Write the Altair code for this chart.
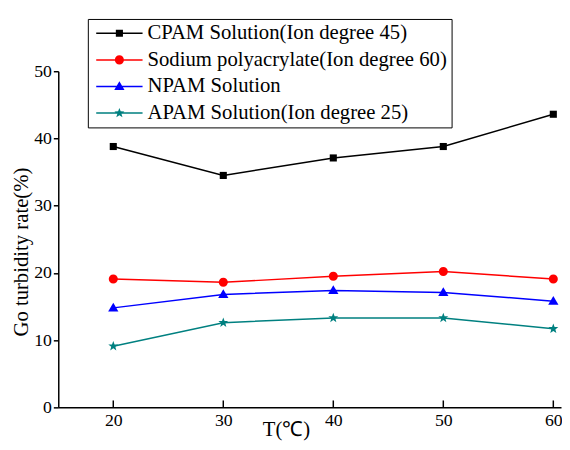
import math
import altair as alt
import pandas as pd

# ---- data ----
temps = [20, 30, 40, 50, 60]
series_names = [
    "CPAM Solution(Ion degree 45)",
    "Sodium polyacrylate(Ion degree 60)",
    "NPAM Solution",
    "APAM Solution(Ion degree 25)",
]
cpam = [38.8, 34.5, 37.1, 38.8, 43.6]
sodium = [19.1, 18.6, 19.5, 20.2, 19.1]
npam = [14.8, 16.8, 17.4, 17.1, 15.8]
apam = [9.1, 12.6, 13.3, 13.3, 11.7]
y_ticks = [0, 10, 20, 30, 40, 50]
colors = ["#000000", "#ff0000", "#0000ff", "#008080"]

rows = []
for name, vals in zip(series_names, [cpam, sodium, npam, apam]):
    for t, v in zip(temps, vals):
        rows.append({"T": t, "series": name, "rate": v})
df = pd.DataFrame(rows)

# ---- symbol paths (custom Vega shapes, unit = sqrt(size)/2 px) ----
def f(v):
    return f"{v:.3f}"

def square_path(h, u):
    h = h / u
    return f"M{f(-h)},{f(-h)}H{f(h)}V{f(h)}H{f(-h)}Z"

def circle_path(r, u):
    r = r / u
    return f"M{f(r)},0A{f(r)},{f(r)} 0 1,1 {f(-r)},0A{f(r)},{f(r)} 0 1,1 {f(r)},0Z"

def tri_path(hw, top, bot, u):
    return f"M0,{f(-top/u)}L{f(hw/u)},{f(bot/u)}L{f(-hw/u)},{f(bot/u)}Z"

def star_path(R, r, u):
    pts = []
    for i in range(10):
        a = -math.pi / 2 + i * math.pi / 5
        rad = (R if i % 2 == 0 else r) / u
        pts.append(f"{f(rad*math.cos(a))},{f(rad*math.sin(a))}")
    return "M" + "L".join(pts) + "Z"

def line_rect(hl, ht, u):
    return f"M{f(-hl/u)},{f(-ht/u)}H{f(hl/u)}V{f(ht/u)}H{f(-hl/u)}Z"

PT_SIZE = 100
pu = math.sqrt(PT_SIZE) / 2
point_paths = [
    square_path(3.6, pu),
    circle_path(4.6, pu),
    tri_path(5.2, 5.2, 3.6, pu),
    star_path(5.3, 2.2, pu),
]

LEG_SIZE = 256
lu = math.sqrt(LEG_SIZE) / 2
legend_paths = [
    line_rect(23.5, 0.75, lu) + p
    for p in [
        square_path(3.6, lu),
        circle_path(4.6, lu),
        tri_path(5.2, 5.2, 3.6, lu),
        star_path(5.3, 2.2, lu),
    ]
]

W, H = 510, 341
FONT = "Liberation Serif"
axis_style = dict(
    domainColor="black", domainWidth=1.5, tickColor="black", tickWidth=1.5,
    labelFont=FONT, labelFontSize=18, labelColor="black",
    titleFont=FONT, titleFontSize=21, titleFontWeight="normal", titleColor="black",
    grid=False,
)

x_enc = alt.X(
    "T:Q",
    scale=alt.Scale(domain=[15, 60.7], nice=False, zero=False),
    axis=alt.Axis(values=temps, ticks=False, tickSize=0, labelPadding=4,
                  title="T(℃)", titleX=231, titleY=23, titleAlign="center",
                  titleBaseline="middle", **axis_style),
)
y_enc = alt.Y(
    "rate:Q",
    scale=alt.Scale(domain=[0, 50], nice=False),
    axis=alt.Axis(values=y_ticks, tickSize=5, labelPadding=2,
                  title="Go turbidity rate(%)", titleX=-37, titleY=183,
                  titleAlign="center", titleBaseline="middle", titleAngle=270,
                  **axis_style),
)


def color_enc():
    return alt.Color("series:N", scale=alt.Scale(domain=series_names, range=colors), legend=None)

base = alt.Chart(df)

lines = base.mark_line(strokeWidth=1.5).encode(x=x_enc, y=y_enc, color=color_enc())

points = base.mark_point(filled=True, opacity=1, size=PT_SIZE, strokeWidth=0).encode(
    x=x_enc, y=y_enc, color=color_enc(),
    shape=alt.Shape("series:N", scale=alt.Scale(domain=series_names, range=point_paths), legend=None),
)

leg = alt.Legend(
    title=None, orient="none", legendX=30, legendY=-53,
    labelFont=FONT, labelFontSize=21, labelColor="black", labelLimit=500,
    symbolSize=LEG_SIZE, symbolStrokeWidth=0, symbolOpacity=1,
    symbolOffset=17.5, labelOffset=18, padding=4, rowPadding=5,
    strokeColor="black", fillColor="white",
)

legend_layer = base.transform_filter("false").mark_point(filled=True, opacity=1, size=LEG_SIZE).encode(
    x=x_enc, y=y_enc,
    color=alt.Color("series:N", scale=alt.Scale(domain=series_names, range=colors), legend=leg),
    shape=alt.Shape("series:N", scale=alt.Scale(domain=series_names, range=legend_paths), legend=leg),
)

tick_df = pd.DataFrame({"T": temps})
xticks = alt.Chart(tick_df).mark_rule(color="black", strokeWidth=1.5).encode(
    x=x_enc, y=alt.value(H), y2=alt.value(H - 7)
)

chart = (
    alt.layer(lines, points, legend_layer, xticks)
    .resolve_scale(shape="independent", color="independent")
    .properties(
        width=W, height=H,
        autosize=alt.AutoSizeParams(type="none"),
        padding={"left": 51, "top": 61, "right": 1, "bottom": 32},
    )
    .configure_view(stroke=None)
)

chart.save("out.html", embed_options={"renderer": "svg", "actions": False})
